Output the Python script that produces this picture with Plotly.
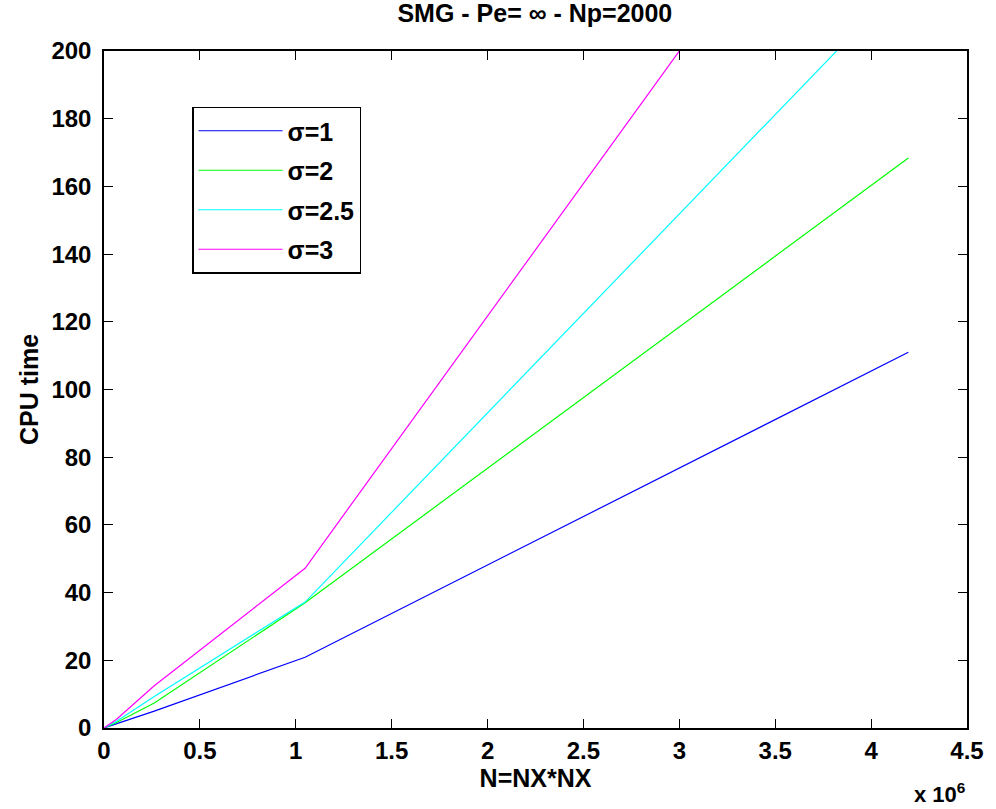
import plotly.graph_objects as go

N = [65536, 262144, 1048576, 4194304]
sigma_labels = ["σ=1", "σ=2", "σ=2.5", "σ=3"]
cpu_s1 = [1.2, 5.0, 20.9, 111.0]
cpu_s2 = [1.6, 7.4, 37.0, 168.4]
cpu_s25 = [2.0, 9.3, 37.2, 222.0]
cpu_s3 = [2.6, 12.5, 47.2, 293.5]
colors = ["#0000FF", "#00FF00", "#00FFFF", "#FF00FF"]

x_tickvals = [0, 0.5e6, 1e6, 1.5e6, 2e6, 2.5e6, 3e6, 3.5e6, 4e6, 4.5e6]
x_ticktext = ["0", "0.5", "1", "1.5", "2", "2.5", "3", "3.5", "4", "4.5"]
y_tickvals = list(range(0, 201, 20))

FONT = "Liberation Sans, Arial, sans-serif"

fig = go.Figure()
for lab, ys, c in zip(sigma_labels, [cpu_s1, cpu_s2, cpu_s25, cpu_s3], colors):
    fig.add_trace(go.Scatter(x=[0] + N, y=[0] + ys, mode="lines", name=lab,
                             legendgroup=lab, line=dict(color=c, width=1.2)))

fig.update_layout(
    width=996, height=809,
    paper_bgcolor="white", plot_bgcolor="white",
    margin=dict(l=104, r=19, t=51, b=81),
    title=dict(text="<b>SMG - Pe= ∞ - Np=2000</b>", x=0.537, xanchor="center", y=0.994, yanchor="top",
               font=dict(family=FONT, size=25, color="black")),
    xaxis=dict(range=[0, 4.5e6], tickvals=x_tickvals, ticktext=x_ticktext,
               ticks="inside", ticklen=9, tickwidth=1, tickcolor="black",
               showline=True, linecolor="black", linewidth=1.5, mirror="ticks",
               showgrid=False, zeroline=False,
               tickfont=dict(family=FONT, size=24, color="black", weight="bold"),
               title=dict(text="<b>N=NX*NX</b>", font=dict(family=FONT, size=25, color="black"), standoff=2)),
    yaxis=dict(range=[0, 200], tickvals=y_tickvals,
               ticks="inside", ticklen=9, tickwidth=1, tickcolor="black",
               showline=True, linecolor="black", linewidth=1.5, mirror="ticks",
               showgrid=False, zeroline=False, ticklabelstandoff=6,
               tickfont=dict(family=FONT, size=24, color="black", weight="bold"),
               title=dict(text="<b>CPU time</b>", font=dict(family=FONT, size=25, color="black"), standoff=6)),
    legend=dict(x=0.102, y=0.918, xanchor="left", yanchor="top",
                bgcolor="white", bordercolor="black", borderwidth=1.5,
                font=dict(family=FONT, size=25, color="black", weight="bold"),
                itemwidth=84, tracegroupgap=4, traceorder="grouped"),
    showlegend=True,
)
fig.add_annotation(text="<b>x 10<sup>6</sup></b>", xref="paper", yref="paper",
                   x=1.0, y=-0.12, xanchor="right", yanchor="bottom", showarrow=False,
                   font=dict(family=FONT, size=22, color="black"))

fig.write_html("out.html")
